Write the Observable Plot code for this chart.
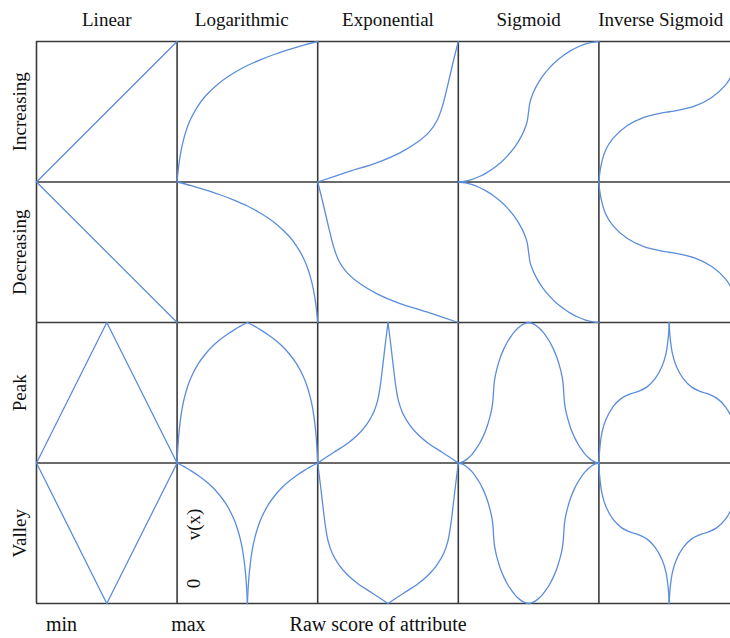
<!DOCTYPE html>
<html>
<head>
<meta charset="utf-8">
<script src="https://cdn.jsdelivr.net/npm/d3@7"></script>
<script src="https://cdn.jsdelivr.net/npm/@observablehq/plot@0.6"></script>
<style>
html, body { margin: 0; padding: 0; background: #fff; overflow: hidden; }
</style>
</head>
<body>
<div id="chart"></div>
<script>
// Column (function family) and row (pattern) labels
const shapes = ["Linear", "Logarithmic", "Exponential", "Sigmoid", "Inverse Sigmoid"];
const patterns = ["Increasing", "Decreasing", "Peak", "Valley"];

// Base "increasing" curves, in cell units (u: 0..1 across, v: 0..1 up)
const linearU = [0, 1];
const linearV = [0, 1];
const logU = [0, 0.005, 0.01, 0.02, 0.04, 0.07, 0.1, 0.15, 0.2, 0.3, 0.4, 0.5, 0.6, 0.7, 0.8, 0.9, 1];
const logV = [0, 0.057, 0.103, 0.176, 0.279, 0.383, 0.456, 0.544, 0.61, 0.705, 0.774, 0.829, 0.873, 0.911, 0.944, 0.974, 1];
const expU = [0, 0.224, 0.414, 0.581, 0.70, 0.795, 0.85, 0.89, 0.925, 0.96, 1];
const expV = [0, 0.075, 0.135, 0.206, 0.277, 0.359, 0.44, 0.55, 0.69, 0.84, 1];
const sigU = [0, 0.05, 0.1, 0.15, 0.2, 0.25, 0.3, 0.35, 0.4, 0.45, 0.475, 0.49, 0.5,
              0.51, 0.525, 0.55, 0.6, 0.65, 0.7, 0.75, 0.8, 0.85, 0.9, 0.95, 1];
const sigV = [0, 0.006, 0.019, 0.039, 0.065, 0.098, 0.137, 0.186, 0.246, 0.328, 0.384, 0.432, 0.5,
              0.568, 0.616, 0.672, 0.754, 0.814, 0.863, 0.902, 0.935, 0.961, 0.981, 0.994, 1];
const invU = [0, 0.01, 0.045, 0.1, 0.2, 0.32, 0.44, 0.5, 0.56, 0.68, 0.8, 0.9, 0.955, 0.99, 1];
const invV = [0, 0.09, 0.22, 0.31, 0.40, 0.46, 0.49, 0.5, 0.51, 0.54, 0.60, 0.69, 0.78, 0.91, 1];

const baseU = [linearU, logU, expU, sigU, invU];
const baseV = [linearV, logV, expV, sigV, invV];

// Annotation texts
const bottomLabels = ["min", "max", "Raw score of attribute"];
const bottomAt = [0.178, 1.08, 2.43];
const axisNotes = ["v(x)", "0"];
const axisNoteX = [1.117, 1.117];
const axisNoteY = [0.562, 0.142];
const titleShift = [0, -0.04, 0, 0, -0.06];

// Build line data: each pattern is the family's base curve placed in its cell
const lines = [];
shapes.forEach((s, c) => {
  const U = baseU[c], V = baseV[c];
  patterns.forEach((p, r) => {
    const row = 3 - r; // Increasing on top
    const halves = [];
    if (p === "Increasing") halves.push(U.map((u, i) => [u, V[i]]));
    if (p === "Decreasing") halves.push(U.map((u, i) => [1 - u, V[i]]));
    if (p === "Peak") {
      halves.push(U.map((u, i) => [u / 2, V[i]]));
      halves.push(U.map((u, i) => [1 - u / 2, V[i]]));
    }
    if (p === "Valley") {
      halves.push(U.map((u, i) => [(1 - u) / 2, V[i]]));
      halves.push(U.map((u, i) => [(1 + u) / 2, V[i]]));
    }
    halves.forEach((h, k) => {
      h.sort((a, b) => a[0] - b[0]);
      h.forEach(([u, v]) => lines.push({id: `${s}-${p}-${k}`, x: c + u, y: row + v}));
    });
  });
});

const serif = "'Liberation Serif', 'DejaVu Serif', serif";

const chart = Plot.plot({
  width: 730,
  height: 638,
  x: {domain: [0, 5], range: [36, 739], axis: null},
  y: {domain: [0, 4], range: [603, 41], axis: null},
  style: {background: "#fff"},
  marks: [
    Plot.ruleX(d3.range(6), {y1: 0, y2: 4, stroke: "#3a3a3a", strokeWidth: 1.6}),
    Plot.ruleY(d3.range(5), {x1: 0, x2: 5, stroke: "#3a3a3a", strokeWidth: 1.6}),
    Plot.line(lines, {x: "x", y: "y", z: "id", stroke: "#5b8ddc", strokeWidth: 1.3, curve: "catmull-rom"}),
    Plot.text(shapes, {
      x: (d, i) => i + 0.5 + titleShift[i], y: () => 4, dy: -22,
      text: d => d, fontSize: 19, fontFamily: serif, fill: "#111"
    }),
    Plot.text(patterns, {
      x: () => 0, y: (d, i) => 3.5 - i, dx: -17, rotate: -90,
      text: d => d, fontSize: 19, fontFamily: serif, fill: "#111"
    }),
    Plot.text(bottomLabels, {
      x: (d, i) => bottomAt[i], y: () => 0, dy: 21,
      text: d => d, fontSize: 20, fontFamily: serif, fill: "#111"
    }),
    Plot.text(axisNotes, {
      x: (d, i) => axisNoteX[i], y: (d, i) => axisNoteY[i], rotate: -90,
      text: d => d, fontSize: 19, fontFamily: serif, fill: "#111"
    })
  ]
});
document.getElementById("chart").appendChild(chart);
</script>
</body>
</html>
